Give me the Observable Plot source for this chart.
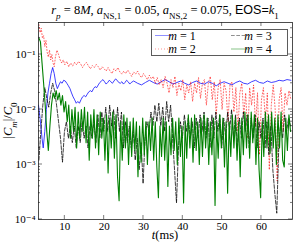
<!DOCTYPE html>
<html><head><meta charset="utf-8">
<script src="https://cdn.jsdelivr.net/npm/d3@7"></script>
<script src="https://cdn.jsdelivr.net/npm/@observablehq/plot@0.6"></script>
<style>body{margin:0;background:#fff} svg{display:block}</style>
</head><body><div id="chart"></div>
<script>
// m = 1 (blue, solid)
const m1T = [3.3,3.8,4.2,4.5,4.9,5.3,5.7,6.1,6.5,6.9,7.3,7.7,8.1,8.5,8.9,9.3,9.7,10.1,10.5,10.9,11.3,11.7,12.1,12.5,12.9,13.3,13.7,14.1,14.5,14.9,15.3,15.7,16.1,16.5,16.9,17.3,17.7,18.1,18.5,18.9,19.3,19.7,20.1,20.5,20.9,21.3,21.7,22.1,22.5,22.9,23.3,23.7,24.1,24.5,24.9,25.3,25.7,26.1,26.5,26.9,27.5,28.5,29.5,30.5,31.5,32.5,33.5,34.5,35.5,36.5,37.5,38.5,39.5,40.5,41.5,42.5,43.5,44.5,45.5,46.5,47.5,48.5,49.5,50.5,51.5,52.5,53.5,54.5,55.5,56.5,57.5,58.5,59.5,60.5,61.5,62.5,63.5,64.5,65.5,66.5,67.5];
const m1V = [0.012,0.006,0.003,0.002,0.004,0.01,0.02,0.03,0.045,0.058,0.045,0.03,0.024,0.028,0.032,0.03,0.034,0.033,0.03,0.027,0.024,0.02,0.017,0.015,0.013,0.014,0.013,0.015,0.017,0.018,0.017,0.019,0.021,0.022,0.021,0.024,0.026,0.025,0.028,0.031,0.033,0.035,0.032,0.029,0.031,0.034,0.032,0.03,0.033,0.036,0.034,0.031,0.03,0.032,0.029,0.031,0.034,0.032,0.029,0.031,0.033,0.03,0.028,0.031,0.034,0.031,0.029,0.032,0.035,0.032,0.029,0.031,0.033,0.03,0.028,0.031,0.033,0.03,0.029,0.032,0.03,0.027,0.03,0.032,0.03,0.028,0.031,0.033,0.03,0.029,0.032,0.034,0.031,0.03,0.033,0.031,0.032,0.034,0.033,0.035,0.034];
// m = 2 (red, dotted)
const m2T = [3.4,3.7,4.0,4.3,4.6,4.9,5.2,5.5,5.8,6.1,6.4,6.7,7.0,7.3,7.6,8.0,8.4,8.8,9.2,9.6,10.0,10.5,11.0,11.5,12.0,12.5,13.0,13.5,14.0,14.5,15.0,15.5,16.0,16.5,17.0,17.5,18.0,18.5,19.0,19.5,20.0,20.5,21.0,21.5,22.0,22.5,23.0,23.5,24.0,24.5,25.0,25.5,26.0,26.5,27.0,27.5,28.0,28.5,29.0,29.5,30.0,30.5,31.0,31.5,32.0,32.5,33.0,33.5,34.0,34.5,35.0,35.5,36.0,36.5,37.0,37.5,38.0,38.5,39.0,39.5,40.0,40.5,41.0,41.5,42.0,42.5,43.0,43.5,44.0,44.5,45.0,45.5,46.0,46.5,47.0,47.5,48.0,48.5,49.0,49.5,50.0,50.5,51.0,51.5,52.0,52.5,53.0,53.5,54.0,54.5,55.0,55.5,56.0,56.5,57.0,57.5,58.0,58.5,59.0,59.5,60.0,60.5,61.0,61.5,62.0,62.5,63.0,63.5,64.0,64.5,65.0,65.5,66.0,66.5,67.0,67.5];
const m2V = [0.35,0.25,0.3,0.2,0.22,0.14,0.18,0.11,0.09,0.12,0.08,0.1,0.07,0.06,0.09,0.12,0.1,0.08,0.07,0.08,0.065,0.075,0.06,0.07,0.062,0.072,0.065,0.075,0.068,0.058,0.066,0.072,0.062,0.055,0.063,0.058,0.066,0.06,0.052,0.06,0.055,0.05,0.058,0.05,0.045,0.055,0.05,0.058,0.048,0.044,0.05,0.045,0.052,0.046,0.04,0.048,0.044,0.05,0.042,0.038,0.045,0.04,0.035,0.042,0.036,0.04,0.03,0.038,0.028,0.035,0.025,0.04,0.03,0.02,0.035,0.025,0.04,0.018,0.03,0.022,0.035,0.015,0.028,0.02,0.032,0.014,0.03,0.02,0.038,0.016,0.03,0.035,0.012,0.03,0.04,0.015,0.032,0.008,0.025,0.035,0.01,0.03,0.022,0.006,0.028,0.032,0.009,0.025,0.004,0.02,0.03,0.008,0.02,0.003,0.025,0.012,0.028,0.005,0.02,0.0015,0.015,0.025,0.006,0.02,0.0008,0.012,0.028,0.01,0.0005,0.015,0.025,0.004,0.02,0.012,0.022,0.015];
// m = 3 (black, dashed), sampled every 0.5 ms from 3.4 ms
const m3Start = 3.4, m3Step = 0.5;
const m3V = [0.0012,0.004,0.012,0.025,0.016,0.011,0.02,0.03,0.022,0.012,
0.006,0.003,0.0011,0.004,0.006,0.003,0.005,0.0025,0.005,0.002,
0.005,0.0025,0.006,0.003,0.005,0.002,0.005,0.003,0.006,0.0025,
0.008,0.003,0.009,0.004,0.011,0.004,0.012,0.005,0.01,0.003,
0.011,0.004,0.009,0.002,0.006,0.0025,0.005,0.002,0.004,0.0012,
0.003,0.0008,0.0025,0.00045,0.003,0.006,0.004,0.009,0.005,0.012,
0.006,0.013,0.005,0.011,0.004,0.014,0.006,0.012,0.003,0.0008,
0.0002,0.002,0.006,0.003,0.008,0.004,0.007,0.003,0.006,0.002,
0.007,0.003,0.008,0.004,0.009,0.003,0.007,0.002,0.008,0.003,
0.009,0.004,0.008,0.002,0.007,0.003,0.009,0.004,0.01,0.003,
0.008,0.002,0.007,0.003,0.009,0.004,0.008,0.002,0.007,0.003,
0.008,0.002,0.006,0.003,0.007,0.002,0.006,0.0015,0.005,0.0008,
0.0003,0.00013,0.002,0.006,0.003,0.008,0.004,0.007,0.005];
// m = 4 (green, solid), sampled every 0.4 ms from 3.4 ms
const m4Start = 3.4, m4Step = 0.4;
const m4V = [0.20,0.17,0.07,0.03,0.012,0.004,0.0018,0.005,0.012,0.02,
0.016,0.022,0.015,0.02,0.012,0.018,0.009,0.014,0.006,0.012,
0.003,0.01,0.004,0.011,0.002,0.009,0.003,0.01,0.004,0.011,
0.0025,0.009,0.0012,0.008,0.003,0.01,0.002,0.008,0.0015,0.009,
0.003,0.007,0.0012,0.008,0.0007,0.007,0.002,0.009,0.0013,0.008,
0.0006,0.00022,0.006,0.0012,0.008,0.002,0.007,0.001,0.006,0.0014,
0.007,0.0018,0.006,0.0006,0.005,0.0011,0.007,0.0015,0.006,0.001,
0.006,0.0018,0.007,0.0012,0.006,0.0009,0.00025,0.005,0.0014,0.007,
0.0012,0.006,0.0004,0.005,0.0015,0.007,0.0018,0.006,0.001,0.007,
0.0014,0.005,0.0002,0.006,0.0013,0.008,0.002,0.007,0.0011,0.008,
0.0018,0.006,0.001,0.007,0.0014,0.008,0.002,0.007,0.001,0.006,
0.0015,0.007,0.00018,0.006,0.0013,0.008,0.002,0.007,0.0009,0.006,
0.0003,0.006,0.0014,0.008,0.002,0.007,0.0012,0.006,0.0006,0.007,
0.0015,0.009,0.002,0.008,0.0013,0.009,0.0025,0.008,0.001,0.007,
0.0008,0.00025,0.006,0.0014,0.009,0.002,0.008,0.0016,0.009,0.002,
0.007,0.001,0.008,0.002,0.009,0.0012,0.0009,0.007,0.0018,0.008,
0.004];

const xTicks = [10, 20, 30, 40, 50, 60];
const yTicks = [1e-4, 1e-3, 1e-2, 1e-1];
const yTickLabels = ["10⁻⁴", "10⁻³", "10⁻²", "10⁻¹"];
const seriesLabels = ["1", "2", "3", "4"];
const seriesColors = ["#0000ff", "#ff0000", "#000000", "#008000"];
const seriesDash = [null, "1,2", "3.7,1.6", null];

const d1 = m1T.map((t, i) => ({t, v: m1V[i]}));
const d2 = m2T.map((t, i) => ({t, v: m2V[i]}));
const d3s = m3V.map((v, i) => ({t: m3Start + i * m3Step, v}));
const d4 = m4V.map((v, i) => ({t: m4Start + i * m4Step, v}));

const W = 293, H = 242, ML = 38, MR = 1, MT = 22, MB = 23;
const FONT = "'Liberation Serif', 'DejaVu Serif', serif";

const chart = Plot.plot({
  width: W, height: H,
  marginLeft: ML, marginRight: MR, marginTop: MT, marginBottom: MB,
  style: {fontFamily: FONT, fontSize: "11px", background: "#fff"},
  x: {domain: [3.3, 67.9]},
  y: {type: "log", domain: [1e-4, 0.382]},
  marks: [
    Plot.line(d1, {x: "t", y: "v", stroke: seriesColors[0], strokeWidth: 0.75, clip: true}),
    Plot.line(d2, {x: "t", y: "v", stroke: seriesColors[1], strokeWidth: 0.8, strokeOpacity: 0.75, strokeDasharray: seriesDash[1], clip: true}),
    Plot.line(d3s, {x: "t", y: "v", stroke: seriesColors[2], strokeWidth: 0.75, strokeDasharray: seriesDash[2], clip: true}),
    Plot.line(d4, {x: "t", y: "v", stroke: seriesColors[3], strokeWidth: 1.1, clip: true}),
    Plot.frame({stroke: "#222", strokeWidth: 0.8}),
    Plot.axisX({ticks: xTicks, tickSize: 0, tickPadding: 3, label: null, fontSize: 11}),
    Plot.axisY({ticks: yTicks, tickSize: 0, tickPadding: 3, label: null, fontSize: 11,
      tickFormat: d => yTickLabels[yTicks.indexOf(d)]})
  ]
});
document.getElementById("chart").appendChild(chart);

const svg = d3.select(chart);
const sx = chart.scale("x"), sy = chart.scale("y");
const L = ML, R = W - MR, T = MT, B = H - MB;
const tg = svg.append("g").attr("stroke", "#222").attr("stroke-width", 0.6);
for (const v of xTicks) {
  const x = sx.apply(v);
  tg.append("line").attr("x1", x).attr("x2", x).attr("y1", B).attr("y2", B - 4);
  tg.append("line").attr("x1", x).attr("x2", x).attr("y1", T).attr("y2", T + 4);
}
for (let k = -4; k <= -1; k++) {
  for (let j = 1; j <= 9; j++) {
    const v = j * Math.pow(10, k);
    if (v > 0.382) continue;
    const y = sy.apply(v);
    const len = j === 1 ? 4 : 2;
    tg.append("line").attr("x1", L).attr("x2", L + len).attr("y1", y).attr("y2", y);
    tg.append("line").attr("x1", R).attr("x2", R - len).attr("y1", y).attr("y2", y);
  }
}

function part(sel, txt, opts = {}) {
  const s = sel.append("tspan").text(txt);
  if (opts.italic) s.attr("font-style", "italic");
  if (opts.sub) s.attr("font-size", "0.72em").attr("baseline-shift", "sub");
  if (opts.sans) s.attr("font-family", "'Liberation Sans', Arial, sans-serif");
  return s;
}
// Title
const title = svg.append("text").attr("x", 165).attr("y", 14).attr("text-anchor", "middle")
  .attr("font-family", FONT).attr("font-size", 12.5).attr("fill", "#000");
part(title, "r", {italic: true}); part(title, "p", {italic: true, sub: true});
part(title, " = 8"); part(title, "M", {italic: true}); part(title, ", ");
part(title, "a", {italic: true}); part(title, "NS,1", {sub: true});
part(title, " = 0.05, ");
part(title, "a", {italic: true}); part(title, "NS,2", {sub: true});
part(title, " = 0.075, ");
part(title, "EOS=", {sans: true}); part(title, "k", {italic: true}); part(title, "1", {sub: true});

// x label
const xl = svg.append("text").attr("x", (L + R) / 2).attr("y", 239).attr("text-anchor", "middle")
  .attr("font-family", FONT).attr("font-size", 12.5);
part(xl, "t", {italic: true}); part(xl, "(ms)");

// y label
const yl = svg.append("text").attr("transform", `translate(12,${(T + B) / 2}) rotate(-90)`)
  .attr("text-anchor", "middle").attr("font-family", FONT).attr("font-size", 12.5);
part(yl, "|"); part(yl, "C", {italic: true}); part(yl, "m", {italic: true, sub: true});
part(yl, "|/"); part(yl, "C", {italic: true}); part(yl, "0", {sub: true});

// Legend
const lg = svg.append("g");
lg.append("rect").attr("x", 151.5).attr("y", 29.5).attr("width", 136).attr("height", 26)
  .attr("fill", "#fff").attr("stroke", "#333").attr("stroke-width", 0.8);
const entries = [
  {i: 0, x: 155, y: 35.5}, {i: 2, x: 231, y: 35.5},
  {i: 1, x: 155, y: 49}, {i: 3, x: 231, y: 49}
];
for (const e of entries) {
  const ln = lg.append("line").attr("x1", e.x).attr("x2", e.x + 17).attr("y1", e.y).attr("y2", e.y)
    .attr("stroke", seriesColors[e.i]).attr("stroke-width", 0.8).attr("stroke-opacity", e.i === 3 ? 0.6 : 0.55);
  if (seriesDash[e.i]) ln.attr("stroke-dasharray", seriesDash[e.i]);
  const tx = lg.append("text").attr("x", e.x + 27).attr("y", e.y + 4)
    .attr("font-family", FONT).attr("font-size", 12);
  part(tx, "m", {italic: true}); part(tx, " = " + seriesLabels[e.i]);
}
</script>
</body></html>
